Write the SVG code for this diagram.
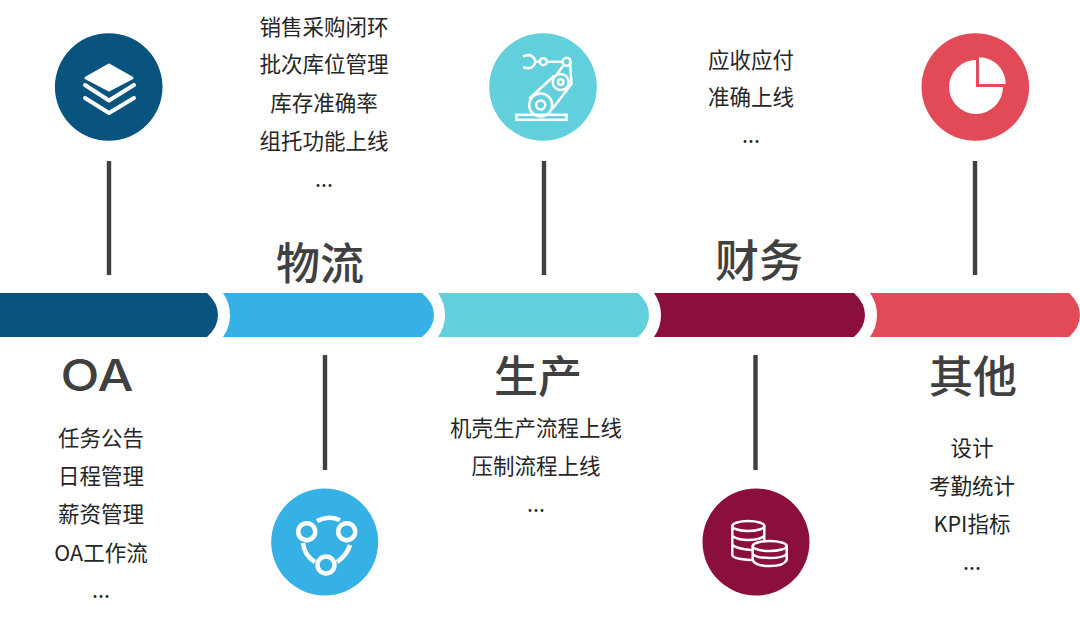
<svg xmlns="http://www.w3.org/2000/svg" width="1080" height="617" viewBox="0 0 1080 617">
<style>
text{font-family:"Noto Sans CJK SC","Noto Sans",sans-serif;text-anchor:middle}
.b{font-size:21.5px;fill:#262626}
.t{font-size:44px;font-weight:500;fill:#404040}
.c{stroke:#404040;stroke-width:4.4;fill:none}
.w{fill:none;stroke:#fff;stroke-linecap:round;stroke-linejoin:round}
.f{fill:#fff}
</style>
<rect width="1080" height="617" fill="#fff"/>
<g id="connectors">
<path class="c" d="M109 161V275M325 355V470M544 161V275M755.500 355V470M975 161V275"/>
</g>
<g id="bar">
<path id="seg-oa" fill="#08547f" d="M0 293H207Q218 303 218 315T207 337H0Z"/>
<path id="seg-logistics" fill="#35b1e5" d="M223 293H422Q434 303 434 315T422 337H223Q230 327 230 315T223 293Z"/>
<path id="seg-production" fill="#62d0dc" d="M438 293H638Q649 303 649 315T638 337H438Q445 327 445 315T438 293Z"/>
<path id="seg-finance" fill="#8b0f3c" d="M654 293H854Q865 303 865 315T854 337H654Q661 327 661 315T654 293Z"/>
<path id="seg-other" fill="#e34a58" d="M870 293H1069Q1080 303 1080 315T1069 337H870Q877 327 877 315T870 293Z"/>
</g>
<g id="node-oa">
<circle cx="108.700" cy="87" r="53.800" fill="#08547f"/>
<path class="f" stroke="#fff" stroke-width="3" stroke-linejoin="round" d="M109 65L132 78 109 90 86 78Z"/>
<path class="w" stroke-width="4" d="M85 85L109 100.500 134 85M85 98L109 113 134 98"/>
<text x="97" y="391" textLength="73" lengthAdjust="spacingAndGlyphs" style="font-family:Inter,sans-serif;font-weight:500;font-size:44px;fill:#404040">OA</text>
<text class="b" x="101" y="446">任务公告</text>
<text class="b" x="101" y="484">日程管理</text>
<text class="b" x="101" y="522">薪资管理</text>
<text class="b" x="101" y="561">OA工作流</text>
<text class="b" x="101" y="598">...</text>
</g>
<g id="node-logistics">
<circle cx="324.700" cy="542" r="53.500" fill="#35b1e5"/>
<g class="w" stroke-width="4.500">
<circle cx="306.700" cy="531.700" r="8.500"/><circle cx="346.700" cy="531.700" r="8.500"/><circle cx="326" cy="565" r="8.500"/>
<path stroke-linecap="butt" d="M317 521Q328 515 340 520M303 543Q304 555 315 562M337 562Q347 555 350 545"/>
</g>
<text class="t" x="320" y="280">物流</text>
<text class="b" x="324" y="35">销售采购闭环</text>
<text class="b" x="324" y="72">批次库位管理</text>
<text class="b" x="324" y="111">库存准确率</text>
<text class="b" x="324" y="149">组托功能上线</text>
<text class="b" x="324" y="187">...</text>
</g>
<g id="node-production">
<circle cx="543" cy="87" r="53.800" fill="#62d0dc"/>
<g class="w" stroke-width="2.500">
<rect x="516.500" y="114.800" width="50" height="5" stroke-linejoin="miter"/>
<circle cx="540.700" cy="105" r="11.500"/><circle cx="540.700" cy="105" r="4.500"/>
<circle cx="560.700" cy="82" r="8"/><circle cx="560.700" cy="82" r="2.800"/>
<circle cx="566.700" cy="61.700" r="4"/><circle cx="543.300" cy="61.700" r="3.500"/>
<path d="M547 61.700H562.500M530 98L554 76M553 108L571.500 84 570 62M563 66L557 74"/>
<path d="M524 56Q532 53 535 60M524 67.500Q532 70 535 63.500M535 61.700H539.500"/>
</g>
<text class="t" x="538" y="393">生产</text>
<text class="b" x="536" y="436">机壳生产流程上线</text>
<text class="b" x="536" y="474">压制流程上线</text>
<text class="b" x="536" y="512">...</text>
</g>
<g id="node-finance">
<circle cx="756" cy="542" r="53.500" fill="#8b0f3c"/>
<g class="w" stroke-width="2.500">
<ellipse cx="748.300" cy="526" rx="16" ry="5"/>
<path d="M732.300 526V555Q733 559 751 560M764.300 526V541M732.300 536Q738 540 748 540 760 540 764.300 536M732.300 545Q738 549 751 550"/>
<ellipse cx="769.700" cy="546" rx="17" ry="5"/>
<path d="M752.700 546V560Q755 566 769.700 566 784 566 786.700 560V546M752.700 554Q756 558 769.700 558 783 558 786.700 554"/>
</g>
<text class="t" x="759" y="277">财务</text>
<text class="b" x="751" y="68">应收应付</text>
<text class="b" x="751" y="105">准确上线</text>
<text class="b" x="751" y="143">...</text>
</g>
<g id="node-other">
<circle cx="975.300" cy="87" r="53.800" fill="#e34a58"/>
<path class="f" d="M976 60A27 27 0 1 0 1003 87H976Z"/>
<path class="f" d="M979 57.300A26.700 26.700 0 0 1 1005.700 84H979Z"/>
<text class="t" x="973" y="393">其他</text>
<text class="b" x="972" y="456">设计</text>
<text class="b" x="972" y="494">考勤统计</text>
<text class="b" x="972" y="532">KPI指标</text>
<text class="b" x="972" y="570">...</text>
</g>
</svg>
